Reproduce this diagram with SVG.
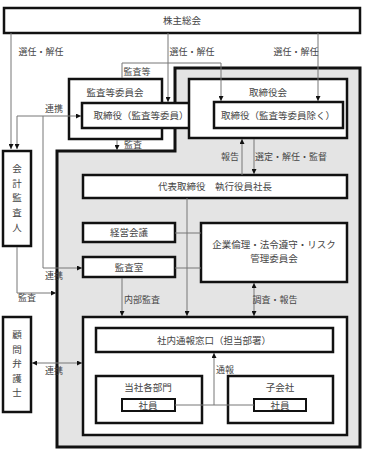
<svg xmlns="http://www.w3.org/2000/svg" width="368" height="456" viewBox="0 0 368 456">
<defs>
<style>
.b{fill:#fff;stroke:#111;stroke-width:2.5}
.bi{fill:#fff;stroke:#111;stroke-width:2}
.t{font-family:"Noto Sans CJK JP","Noto Sans",sans-serif;font-size:9.5px;fill:#444;text-anchor:middle}
.l{font-family:"Noto Sans CJK JP","Noto Sans",sans-serif;font-size:9px;fill:#444;text-anchor:middle}
.c{fill:none;stroke:#777;stroke-width:1}
</style>
<marker id="a" viewBox="0 0 6 6" refX="6" refY="3" markerWidth="5" markerHeight="5" markerUnits="userSpaceOnUse" orient="auto-start-reverse"><path d="M0,0L6,3L0,6z" fill="#111"/></marker>
</defs>
<rect width="368" height="456" fill="#fff"/>
<g id="frame"><path d="M175,68H360V447H57V151H175Z" fill="#e4e4e4" stroke="#111" stroke-width="3"/></g>
<g id="kabunushi"><rect class="b" x="4" y="8" width="356" height="25"/><text class="t" x="182" y="24">株主総会</text></g>
<g id="kansatoiinkai"><rect class="b" x="69" y="79" width="93" height="60"/><text class="t" x="115" y="96">監査等委員会</text></g>
<g id="torishimariyaku-kansa"><rect class="b" x="82" y="103" width="118" height="25"/><text class="t" x="141" y="119">取締役（監査等委員）</text></g>
<g id="torishimariyakukai"><rect class="b" x="189" y="79" width="158" height="59"/><text class="t" x="268" y="96">取締役会</text></g>
<g id="torishimariyaku"><rect class="b" x="214" y="102" width="129" height="26"/><text class="t" x="278" y="119">取締役（監査等委員除く）</text></g>
<g id="kaikei"><rect class="b" x="3" y="151" width="28" height="95"/>
<text class="t" x="17" y="171.5">会</text><text class="t" x="17" y="186.5">計</text><text class="t" x="17" y="200.5">監</text><text class="t" x="17" y="215.5">査</text><text class="t" x="17" y="230.5">人</text></g>
<g id="daihyo"><rect class="b" x="83" y="175" width="264" height="23"/><text class="t" x="215" y="190">代表取締役　執行役員社長</text></g>
<g id="keiei"><rect class="b" x="83" y="223" width="92" height="19"/><text class="t" x="129" y="236">経営会議</text></g>
<g id="kansashitsu"><rect class="b" x="83" y="257" width="92" height="20"/><text class="t" x="129" y="270.5">監査室</text></g>
<g id="rinri"><rect class="b" x="201" y="223" width="146" height="59"/><text class="t" x="274" y="248">企業倫理・法令遵守・リスク</text><text class="t" x="274" y="262">管理委員会</text></g>
<g id="naibu"><rect class="b" x="83" y="317" width="264" height="118"/></g>
<g id="madoguchi"><rect class="b" x="96" y="328" width="237" height="24"/><text class="t" x="214" y="343.5">社内通報窓口（担当部署）</text></g>
<g id="kakubumon"><rect class="b" x="96" y="376" width="106" height="47"/><text class="t" x="148" y="391">当社各部門</text></g>
<g id="shain1"><rect class="bi" x="122" y="399" width="53" height="12"/><text class="t" x="148" y="408.5">社員</text></g>
<g id="kogaisha"><rect class="b" x="228" y="376" width="105" height="47"/><text class="t" x="280" y="391">子会社</text></g>
<g id="shain2"><rect class="bi" x="254" y="399" width="52" height="12"/><text class="t" x="280" y="408.5">社員</text></g>
<g id="komon"><rect class="b" x="3" y="317" width="28" height="95"/>
<text class="t" x="17" y="337.5">顧</text><text class="t" x="17" y="352.5">問</text><text class="t" x="17" y="366.5">弁</text><text class="t" x="17" y="381.5">護</text><text class="t" x="17" y="395.5">士</text></g>
<g id="connectors">
<path class="c" d="M11,33V149" marker-end="url(#a)"/>
<path class="c" d="M168,33V102" marker-end="url(#a)"/>
<path class="c" d="M318,33V101" marker-end="url(#a)"/>
<path class="c" d="M122,78V63H221V101" marker-end="url(#a)"/>
<path class="c" d="M17,116H81" marker-end="url(#a)"/>
<path class="c" d="M17,116V149" marker-end="url(#a)"/>
<path class="c" d="M43,116V268H82" marker-end="url(#a)"/>
<path class="c" d="M117,140V150" marker-end="url(#a)"/>
<path class="c" d="M242,175V139" marker-end="url(#a)"/>
<path class="c" d="M254,139V174" marker-end="url(#a)"/>
<path class="c" d="M187,198V316" marker-end="url(#a)"/>
<path class="c" d="M175,233H201"/>
<path class="c" d="M175,268H201"/>
<path class="c" d="M122,278V316" marker-end="url(#a)"/>
<path class="c" d="M254,283V316" marker-start="url(#a)" marker-end="url(#a)"/>
<path class="c" d="M17,247V293H56" marker-end="url(#a)"/>
<path class="c" d="M32,363H82" marker-start="url(#a)" marker-end="url(#a)"/>
<path class="c" d="M175,405H254"/>
<path class="c" d="M214,405V353" marker-end="url(#a)"/>
</g>
<g id="labels">
<text class="l" x="41" y="55">選任・解任</text>
<text class="l" x="192" y="55">選任・解任</text>
<text class="l" x="296" y="55">選任・解任</text>
<text class="l" x="137" y="75">監査等</text>
<text class="l" x="54" y="112">連携</text>
<text class="l" x="133" y="148">監査</text>
<text class="l" x="230" y="160">報告</text>
<text class="l" x="291" y="160">選定・解任・監督</text>
<text class="l" x="54" y="279">連携</text>
<text class="l" x="27" y="301">監査</text>
<text class="l" x="142" y="303">内部監査</text>
<text class="l" x="275" y="303">調査・報告</text>
<text class="l" x="54" y="374">連携</text>
<text class="l" x="225" y="373">通報</text>
</g>
</svg>
